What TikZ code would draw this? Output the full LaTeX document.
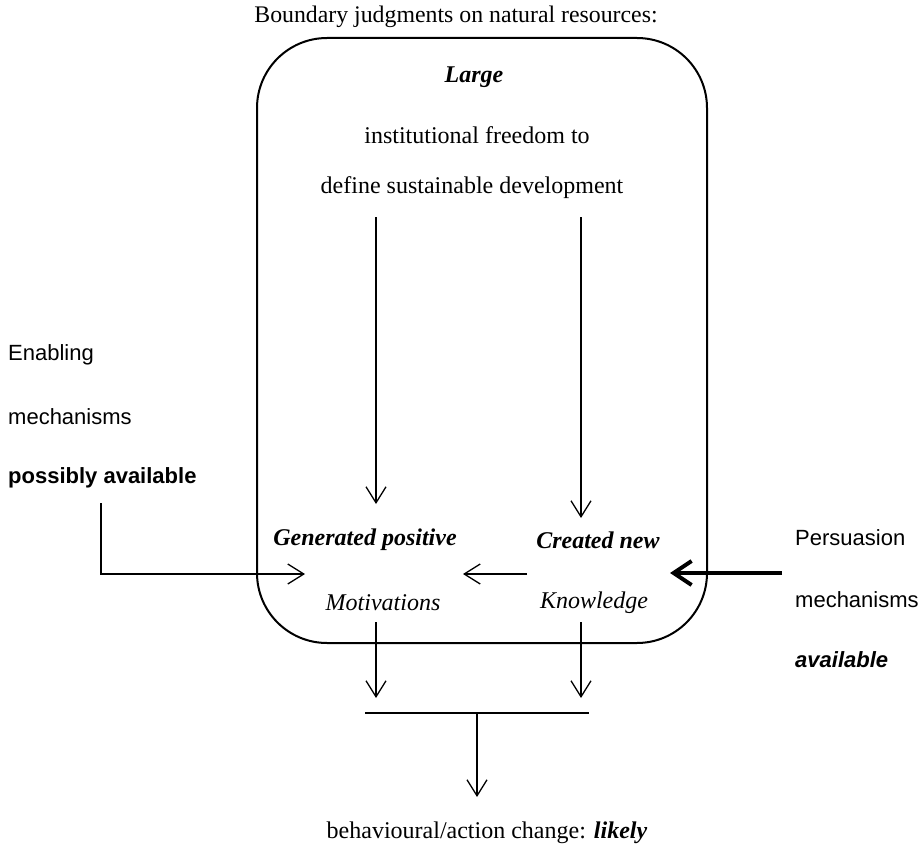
\documentclass[tikz,border=0pt]{standalone}
\usepackage{fontspec}
\setmainfont{Liberation Serif}
\setsansfont{Liberation Sans}
\usetikzlibrary{arrows.meta}
\begin{document}
\begin{tikzpicture}[x=1pt,y=-1pt,
  serif/.style={inner sep=0pt,font=\fontsize{24}{28}\selectfont},
  titletext/.style={inner sep=0pt,font=\fontsize{23.8}{28}\selectfont},
  sanstext/.style={inner sep=0pt,anchor=west,font=\sffamily\fontsize{22}{26}\selectfont},
  thin arrow/.style={line width=1.3pt,-{Straight Barb[length=16pt,width=20pt,line width=1.3pt]}},
  thick arrow/.style={line width=4pt,-{Straight Barb[length=18pt,width=24pt,line width=4pt]}},
  frame/.style={line width=2pt,rounded corners=70pt}
]
\useasboundingbox (0,0) rectangle (924,848);

% frame
\draw[frame] (257,38) rectangle (707,643);

% texts
\node[titletext] (title) at (456,17) {Boundary judgments on natural resources:};
\node[serif] (large) at (474,77) {\textbf{\textit{Large}}};
\node[serif] (inst) at (477,135) {institutional freedom to};
\node[serif] (def) at (472,188) {define sustainable development};
\node[serif] (gen) at (365,540) {\textbf{\textit{Generated positive}}};
\node[serif] (cre) at (598,540) {\textbf{\textit{Created new}}};
\node[serif] (mot) at (383,603) {\textit{Motivations}};
\node[serif] (kno) at (594,603) {\textit{Knowledge}};
\node[serif] (beh) at (487,833) {behavioural/action change: \textbf{\textit{likely}}};

\node[sanstext] (en1) at (8,355) {Enabling};
\node[sanstext] (en2) at (8,417) {mechanisms};
\node[sanstext] (en3) at (8,478) {\textbf{possibly available}};
\node[sanstext] (pe1) at (795,538) {Persuasion};
\node[sanstext] (pe2) at (795,600) {mechanisms};
\node[sanstext] (pe3) at (795,660) {\textbf{\textit{available}}};

% coordinates
\coordinate (aL0) at (376,217);
\coordinate (aL1) at (376,504);
\coordinate (aR0) at (581,217);
\coordinate (aR1) at (581,518);
\coordinate (kn0) at (527,574);
\coordinate (mo1) at (463,574);
\coordinate (en0) at (101,503);
\coordinate (enc) at (101,574);
\coordinate (en4) at (305,574);
\coordinate (pe0) at (782,573);
\coordinate (pe4) at (670,573);
\coordinate (dL0) at (376,622);
\coordinate (dL1) at (376,698);
\coordinate (dR0) at (581,622);
\coordinate (dR1) at (581,698);
\coordinate (barL) at (365,713);
\coordinate (barR) at (589,713);
\coordinate (barM) at (477,713);
\coordinate (out1) at (477,797);

% connectors
\draw[thin arrow] (aL0) -- (aL1);
\draw[thin arrow] (aR0) -- (aR1);
\draw[thin arrow] (kn0) -- (mo1);
\draw[thin arrow] (en0) -- (enc) -- (en4);
\draw[thick arrow] (pe0) -- (pe4);
\draw[thin arrow] (dL0) -- (dL1);
\draw[thin arrow] (dR0) -- (dR1);
\draw[line width=2.2pt] (barL) -- (barR);
\draw[thin arrow] (barM) -- (out1);
\end{tikzpicture}
\end{document}
